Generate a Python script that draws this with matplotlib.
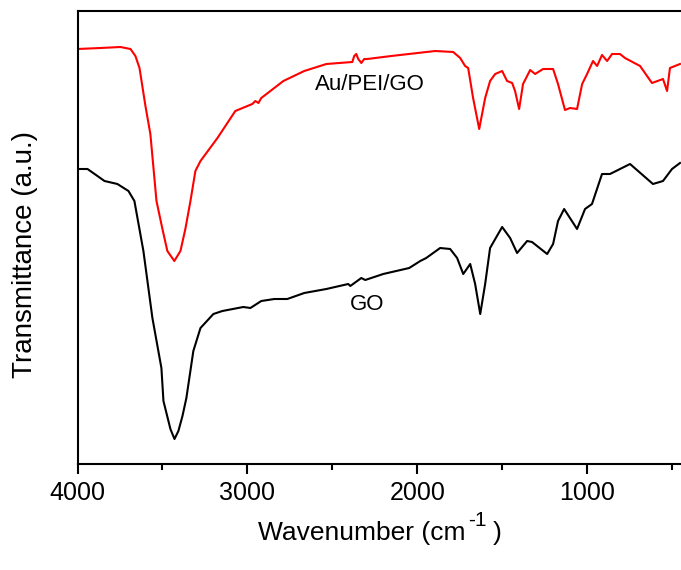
import matplotlib
matplotlib.use("Agg")
import matplotlib.pyplot as plt
from matplotlib.ticker import MultipleLocator, NullLocator

plt.rcParams['font.family'] = ['Liberation Sans', 'DejaVu Sans']

# FTIR spectra (wavenumber in cm-1, transmittance in a.u.)
wn_au = [4000, 3865, 3747, 3688, 3659, 3635, 3600, 3571, 3535, 3500, 3471, 3430,
         3394, 3365, 3335, 3306, 3276, 3176, 3071, 2971, 2953, 2935, 2918, 2788,
         2665, 2535, 2382, 2371, 2359, 2347, 2329, 2312, 2294, 2153, 1894, 1788,
         1747, 1718, 1700, 1671, 1635, 1600, 1571, 1541, 1500, 1471, 1441, 1424,
         1400, 1377, 1335, 1306, 1259, 1200, 1171, 1130, 1100, 1059, 1029, 1000,
         965, 941, 912, 882, 853, 806, 777, 688, 618, 553, 529, 512, 453]
t_au = [415, 416, 417, 415, 408, 396, 358, 330, 263, 235, 213, 203,
        213, 235, 263, 293, 303, 326, 353, 360, 363, 361, 366, 383,
        393, 400, 402, 408, 410, 405, 401, 405, 405, 408, 413, 412,
        406, 398, 396, 366, 335, 366, 383, 390, 393, 383, 381, 373,
        355, 380, 394, 390, 395, 395, 380, 354, 356, 355, 380, 390,
        403, 398, 409, 403, 410, 410, 406, 398, 381, 385, 373, 396, 400]

wn_go = [4000, 3941, 3841, 3765, 3700, 3665, 3612, 3559, 3506, 3494, 3453, 3429,
         3406, 3382, 3359, 3318, 3276, 3200, 3147, 3024, 2982, 2918, 2841, 2765,
         2665, 2535, 2406, 2394, 2329, 2306, 2200, 2047, 1982, 1947, 1865, 1806,
         1765, 1729, 1688, 1659, 1629, 1600, 1571, 1500, 1453, 1412, 1353, 1324,
         1235, 1200, 1171, 1135, 1059, 1012, 971, 912, 865, 806, 747, 612,
         553, 500, 453]
t_go = [295, 295, 283, 280, 273, 263, 213, 146, 96, 63, 35, 25,
        33, 48, 66, 113, 136, 150, 153, 157, 156, 163, 165, 165,
        171, 175, 180, 178, 186, 184, 190, 196, 203, 206, 216, 215,
        206, 190, 200, 180, 150, 180, 216, 237, 226, 211, 223, 222,
        210, 220, 243, 255, 235, 255, 260, 290, 290, 295, 300, 280,
        283, 295, 301]

W, H = 681, 570
fig = plt.figure(figsize=(W / 100, H / 100), dpi=100)
ax = fig.add_axes([77.5 / W, (H - 464) / H, (W - 77.5) / W, 453 / H])

ax.plot(wn_au, t_au, color='#ff0000', lw=1.5)
ax.plot(wn_go, t_go, color='black', lw=1.5)

ax.text(2277, 374, 'Au/PEI/GO', fontsize=16, ha='center', va='baseline')
ax.text(2294, 154, 'GO', fontsize=16, ha='center', va='baseline')

ax.set_xlim(4000, 447)
ax.set_ylim(0, 453)
ax.xaxis.set_major_locator(MultipleLocator(1000))
ax.xaxis.set_minor_locator(MultipleLocator(500))
ax.yaxis.set_major_locator(NullLocator())
ax.tick_params(axis='x', which='major', direction='out', length=7, width=1.5,
               labelsize=18, pad=5)
ax.tick_params(axis='x', which='minor', direction='out', length=4.2, width=1.5)
for s in ['left', 'bottom', 'top']:
    ax.spines[s].set_linewidth(1.5)
ax.spines['right'].set_visible(False)

# x label with a big hyphen superscript, as in the original
t1 = fig.text(258 / W, (H - 540) / H, 'Wavenumber (cm', fontsize=19,
              ha='left', va='baseline')
sup = ax.annotate('-1', xy=(1, H - 526), xycoords=(t1, 'figure pixels'),
                  xytext=(2, 0), textcoords='offset points', fontsize=15,
                  ha='left', va='baseline', annotation_clip=False)
ax.annotate(')', xy=(1, H - 540), xycoords=(sup, 'figure pixels'),
            xytext=(4, 0), textcoords='offset points', fontsize=19,
            ha='left', va='baseline', annotation_clip=False)

fig.text(25 / W, (H - 254) / H, 'Transmittance (a.u.)', fontsize=20,
         rotation=90, ha='center', va='center')

fig.savefig('out.png', dpi=100)
